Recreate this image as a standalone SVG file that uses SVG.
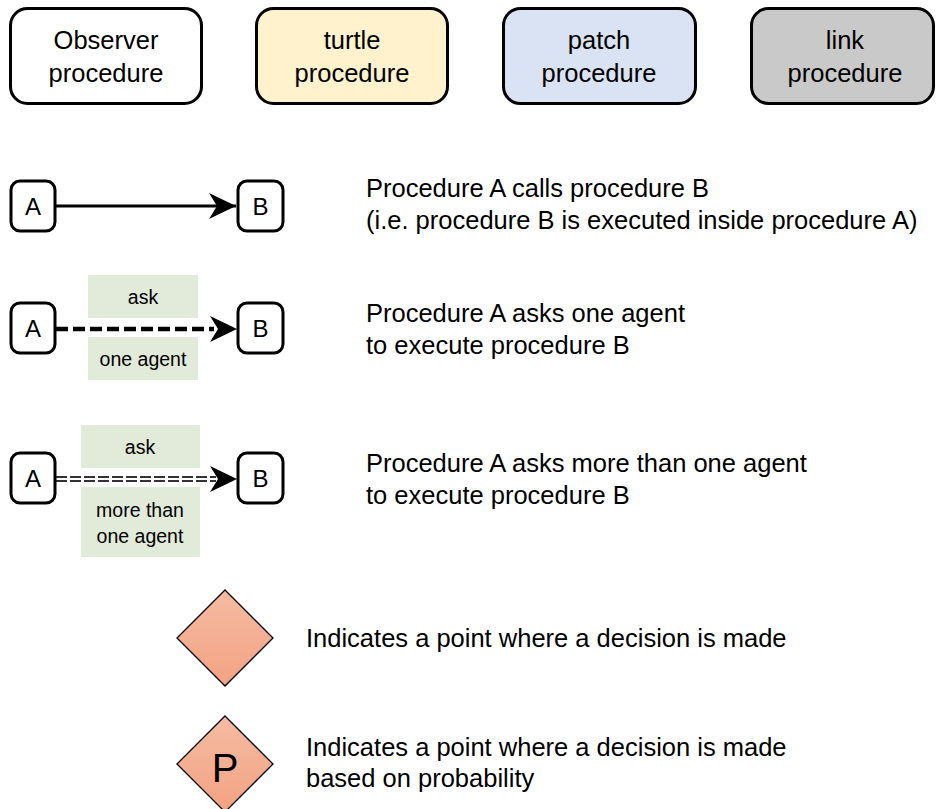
<svg xmlns="http://www.w3.org/2000/svg" width="937" height="809" viewBox="0 0 937 809">
<style>
text{font-family:"Liberation Sans",Arial,sans-serif;fill:#000}
.big{font-size:25.5px}
.mid{font-size:24px}
.sm{font-size:19.5px}
.box{stroke:#000;stroke-width:3}
.lbl{fill:#E2EBD9}
.dia{fill:url(#dg);stroke:#000;stroke-width:1.3}
</style>
<defs>
<linearGradient id="dg" x1="0" y1="0" x2="0" y2="1">
<stop offset="0" stop-color="#F5BBA2"/>
<stop offset="1" stop-color="#F3A282"/>
</linearGradient>
<marker id="ah" markerUnits="userSpaceOnUse" markerWidth="30" markerHeight="30" viewBox="-28 -14 30 28" refX="0" refY="0" orient="auto">
<path d="M0,0 L-27,-13 L-19,0 L-27,13 Z" fill="#000"/>
</marker>
</defs>
<rect width="937" height="809" fill="#fff"/>

<g id="observer">
<rect class="box" x="10.5" y="8.5" width="191" height="95" rx="17" fill="#fff"/>
<text class="big" x="106" y="49" text-anchor="middle">Observer</text>
<text class="big" x="106" y="82" text-anchor="middle">procedure</text>
</g>
<g id="turtle">
<rect class="box" x="256.5" y="8.5" width="191" height="95" rx="17" fill="#FFF2CC"/>
<text class="big" x="352" y="49" text-anchor="middle">turtle</text>
<text class="big" x="352" y="82" text-anchor="middle">procedure</text>
</g>
<g id="patch">
<rect class="box" x="503.5" y="8.5" width="192" height="95" rx="17" fill="#DAE3F3"/>
<text class="big" x="599" y="49" text-anchor="middle">patch</text>
<text class="big" x="599" y="82" text-anchor="middle">procedure</text>
</g>
<g id="link">
<rect class="box" x="751.5" y="8.5" width="182" height="95" rx="17" fill="#C9C9C9"/>
<text class="big" x="845" y="49" text-anchor="middle">link</text>
<text class="big" x="845" y="82" text-anchor="middle">procedure</text>
</g>

<g id="labels">
<rect class="lbl" x="88" y="275" width="110" height="43"/>
<text class="sm" x="143" y="304" text-anchor="middle">ask</text>
<rect class="lbl" x="88" y="337" width="110" height="43"/>
<text class="sm" x="143" y="366" text-anchor="middle">one agent</text>
<rect class="lbl" x="81" y="425" width="119" height="43"/>
<text class="sm" x="140" y="454" text-anchor="middle">ask</text>
<rect class="lbl" x="81" y="487" width="119" height="70"/>
<text class="sm" x="140" y="517" text-anchor="middle">more than</text>
<text class="sm" x="140" y="543" text-anchor="middle">one agent</text>
</g>

<g id="connectors">
<line x1="56" y1="206" x2="236" y2="206" stroke="#000" stroke-width="3" marker-end="url(#ah)"/>
<line x1="56" y1="329" x2="214" y2="329" stroke="#000" stroke-width="4.5" stroke-dasharray="12 5"/>
<path d="M237,329 L210,316 L218,329 L210,342 Z" fill="#000"/>
<line x1="56" y1="479" x2="216" y2="479" stroke="#333" stroke-width="6" stroke-dasharray="11 3"/>
<line x1="56" y1="479" x2="216" y2="479" stroke="#fff" stroke-width="2"/>
<path d="M237,479 L210,466 L218,479 L210,492 Z" fill="#000"/>
</g>

<g id="A1"><rect class="box" x="11" y="181" width="44" height="50" rx="9" fill="#fff"/><text class="mid" x="33" y="215" text-anchor="middle">A</text></g>
<g id="B1"><rect class="box" x="238" y="181" width="45" height="50" rx="9" fill="#fff"/><text class="mid" x="260.5" y="215" text-anchor="middle">B</text></g>
<g id="A2"><rect class="box" x="11" y="303" width="44" height="50" rx="9" fill="#fff"/><text class="mid" x="33" y="337" text-anchor="middle">A</text></g>
<g id="B2"><rect class="box" x="238" y="303" width="45" height="50" rx="9" fill="#fff"/><text class="mid" x="260.5" y="337" text-anchor="middle">B</text></g>
<g id="A3"><rect class="box" x="11" y="453" width="44" height="50" rx="9" fill="#fff"/><text class="mid" x="33" y="487" text-anchor="middle">A</text></g>
<g id="B3"><rect class="box" x="238" y="453" width="45" height="50" rx="9" fill="#fff"/><text class="mid" x="260.5" y="487" text-anchor="middle">B</text></g>

<g id="desc">
<text class="big" x="366" y="197">Procedure A calls procedure B</text>
<text class="big" x="366" y="229">(i.e. procedure B is executed inside procedure A)</text>
<text class="big" x="366" y="322">Procedure A asks one agent</text>
<text class="big" x="366" y="354">to execute procedure B</text>
<text class="big" x="366" y="472">Procedure A asks more than one agent</text>
<text class="big" x="366" y="504">to execute procedure B</text>
<text class="big" x="306" y="647">Indicates a point where a decision is made</text>
<text class="big" x="306" y="756">Indicates a point where a decision is made</text>
<text class="big" x="306" y="787">based on probability</text>
</g>

<g id="decision">
<polygon class="dia" points="225,590 273,638 225,686 177,638"/>
</g>
<g id="decisionP">
<polygon class="dia" points="225,716 273,764 225,812 177,764"/>
<text x="225" y="782" text-anchor="middle" font-size="40">P</text>
</g>
</svg>
